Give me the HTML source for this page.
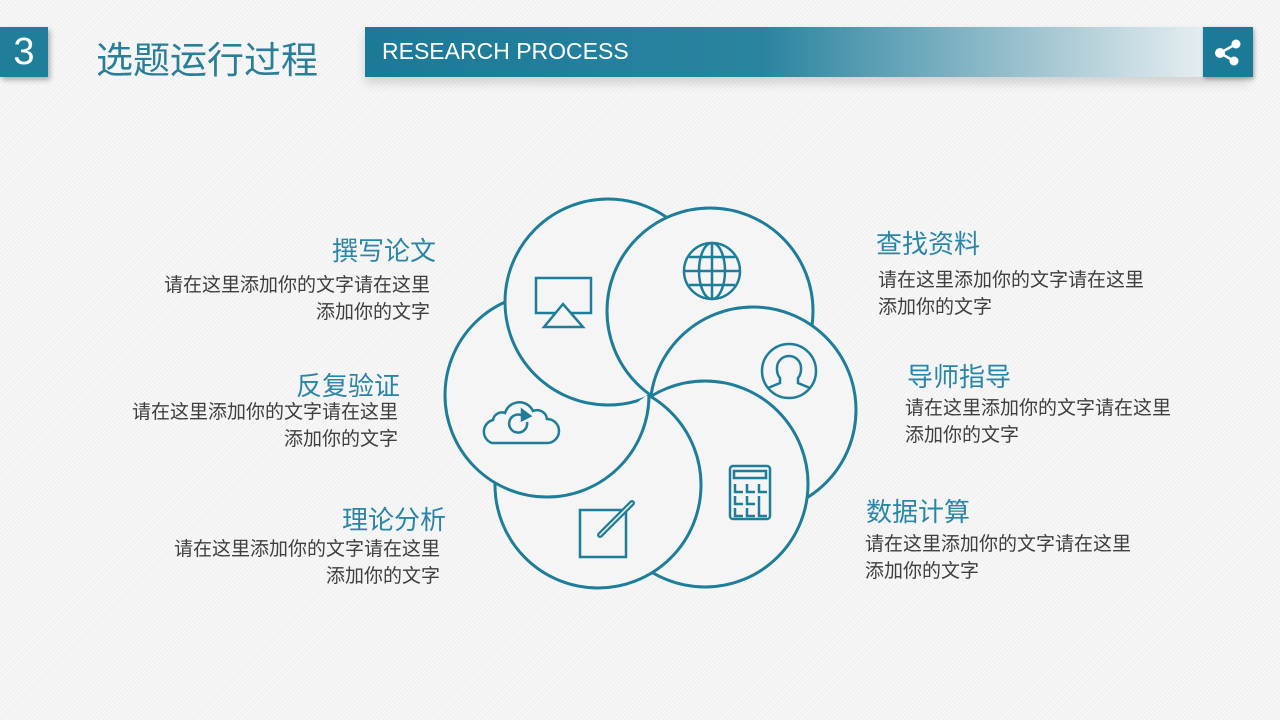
<!DOCTYPE html>
<html><head><meta charset="utf-8"><style>
body{margin:0;width:1280px;height:720px;overflow:hidden;background:#f5f5f5;font-family:"Liberation Sans","Noto Sans CJK SC",sans-serif;position:relative;
background-image:repeating-linear-gradient(135deg,#f7f7f7 0 2px,#efefef 2px 3px);}
.a{position:absolute;white-space:nowrap}
.t{font-size:26px;color:#2a86a6}
.b{font-size:19px;color:#3e3e3e;line-height:27px}
.r{text-align:right}
</style></head><body>
<div class="a" style="left:0;top:27px;width:48px;height:50px;background:#1f7f9b;color:#fff;font-size:38px;line-height:50px;text-align:center;box-shadow:2px 3px 5px rgba(0,0,0,.3)">3</div>
<div class="a" style="left:96px;top:30px;font-size:37px;color:#2a7f98">选题运行过程</div>
<div class="a" style="left:365px;top:27px;width:885px;height:50px;background:linear-gradient(90deg,#1b7a98 0%,#2a84a0 45%,#a9c9d4 78%,#e6eef1 95%);box-shadow:0 6px 10px rgba(0,0,0,.15)"></div>
<div class="a" style="left:382px;top:38px;font-size:23px;color:#fff">RESEARCH PROCESS</div>
<div class="a" style="left:1203px;top:27px;width:50px;height:50px;background:#1b7a98;box-shadow:1px 2px 4px rgba(0,0,0,.3)">
<svg width="50" height="50"><g stroke="#fff" stroke-width="2.5"><line x1="17" y1="26" x2="33" y2="17"/><line x1="17" y1="26" x2="31" y2="34"/></g><g fill="#fff"><circle cx="17" cy="26" r="5"/><circle cx="33" cy="17" r="4.5"/><circle cx="31" cy="34" r="4.5"/></g></svg></div>

<svg class="a" style="left:0;top:0" width="1280" height="720">
<defs><clipPath id="cd"><circle cx="705" cy="484" r="106"/></clipPath></defs>
<g stroke="#1e7d99" stroke-width="3" fill="#f5f5f5">
<circle cx="598" cy="485" r="103"/>
<circle cx="547" cy="395" r="102"/>
<circle cx="608" cy="302" r="103"/>
<circle cx="710" cy="311" r="103"/>
<circle cx="753" cy="410" r="103"/>
<circle cx="705" cy="484" r="103"/>
<circle cx="598" cy="485" r="103" clip-path="url(#cd)"/>
<circle cx="547" cy="395" r="102" fill="none" clip-path="url(#cd)"/>
</g>
<g stroke="#1e7d99" stroke-width="2.5" fill="none">
<rect x="536" y="278" width="55" height="35"/>
<polygon points="563,304 544,327 583,327" fill="#f5f5f5"/>
<path d="M492,443 h55 a10,10 0 0 0 0,-24 a10,10 0 0 0 -14,-8 a15,15 0 0 0 -28,2 a9,9 0 0 0 -12,7 a12,12 0 0 0 -1,23z"/>
<path d="M527,422 a9,9 0 1 1 -4,-6"/>
<polygon points="522,410 530,416 522,420" fill="#1e7d99"/>
<rect x="580" y="510" width="46" height="47"/>
<path d="M600,535 L632,503" stroke-width="6" stroke-linecap="round"/>
<path d="M600,535 L632,503" stroke="#f5f5f5" stroke-width="1.5" stroke-linecap="round"/>
<circle cx="712" cy="271" r="28"/>
<ellipse cx="712" cy="271" rx="13" ry="28"/>
<line x1="712" y1="243" x2="712" y2="299"/>
<line x1="684" y1="271" x2="740" y2="271"/>
<path d="M689,257 h46 M689,285 h46"/>
<circle cx="789" cy="371" r="27"/>
<path d="M768,388 l12,-5 v-5 a9,12 0 0 1 -3,-10 a12,12 0 0 1 24,0 a9,12 0 0 1 -3,10 v5 l12,5"/>
<rect x="730" y="466" width="40" height="53" rx="3"/>
<rect x="734" y="471" width="32" height="7"/>
<path d="M735,484 v8 h8 M747,484 v8 h8 M759,484 v8 h8 M735,496 v8 h8 M747,496 v8 h8 M759,496 v20 h8 M735,508 v8 h8 M747,508 v8 h8"/>
</g>
</svg>

<div class="a t r" style="right:844px;top:231px">撰写论文</div>
<div class="a b r" style="right:850px;top:272px">请在这里添加你的文字请在这里<br>添加你的文字</div>
<div class="a t r" style="right:880px;top:366px">反复验证</div>
<div class="a b r" style="right:882px;top:399px">请在这里添加你的文字请在这里<br>添加你的文字</div>
<div class="a t r" style="right:834px;top:500px">理论分析</div>
<div class="a b r" style="right:840px;top:536px">请在这里添加你的文字请在这里<br>添加你的文字</div>
<div class="a t" style="left:876px;top:224px">查找资料</div>
<div class="a b" style="left:878px;top:267px">请在这里添加你的文字请在这里<br>添加你的文字</div>
<div class="a t" style="left:907px;top:357px">导师指导</div>
<div class="a b" style="left:905px;top:395px">请在这里添加你的文字请在这里<br>添加你的文字</div>
<div class="a t" style="left:866px;top:492px">数据计算</div>
<div class="a b" style="left:865px;top:531px">请在这里添加你的文字请在这里<br>添加你的文字</div>
</body></html>
